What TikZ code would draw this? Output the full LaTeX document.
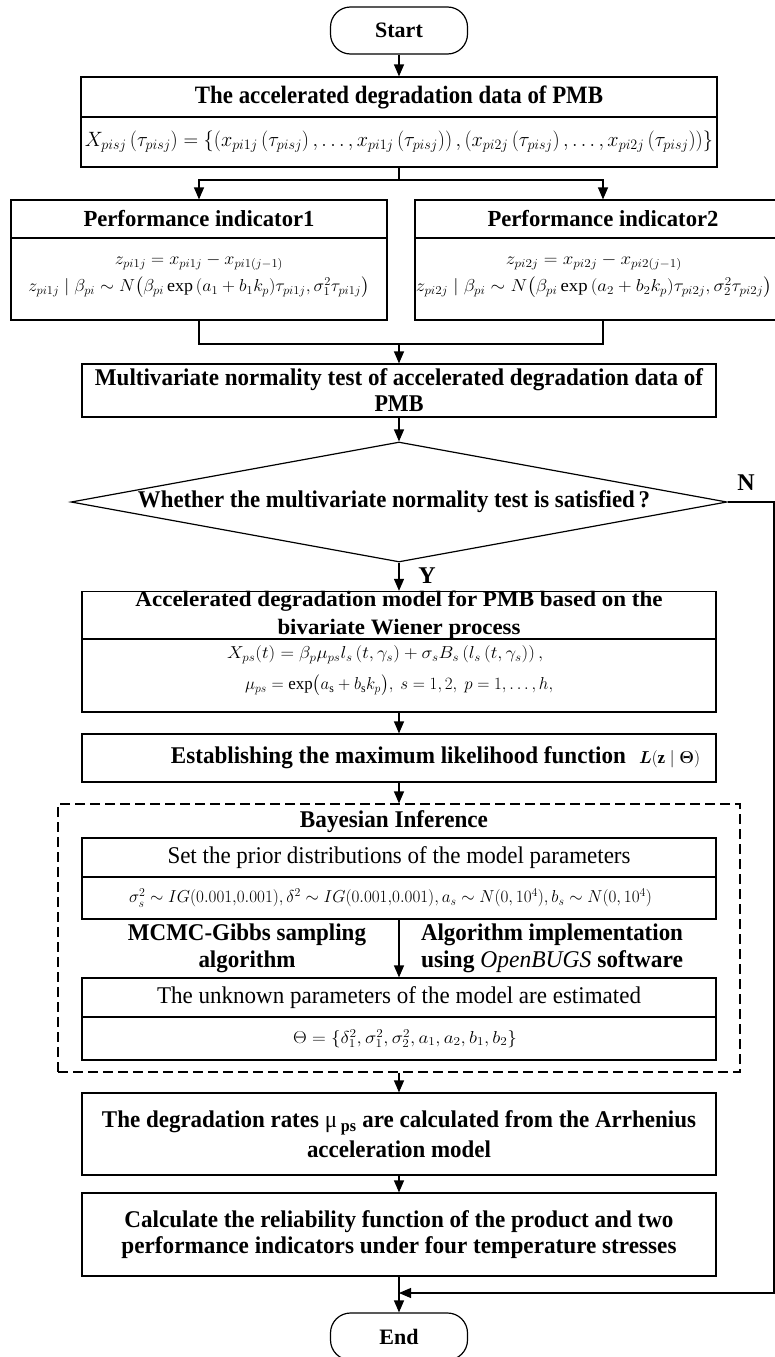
\documentclass[tikz,border=0pt]{standalone}
\usepackage{amsmath}
\usepackage{graphicx}
\usepackage{fontspec}
\setmainfont{Liberation Serif}
\usetikzlibrary{shapes.geometric,arrows.meta}
\newcommand\fw[2]{\resizebox{#1pt}{\height}{#2}}
\newcommand\hdf{\bfseries\fontsize{24}{27}\selectfont}
\newcommand\rgf{\fontsize{24}{27}\selectfont}
\newcommand\mff{\fontsize{17.28}{27}\selectfont}
\begin{document}
\begin{tikzpicture}[x=1pt,y=-1pt,
  ln/.style={line width=1.2pt},
  arr/.style={ln,-{Triangle[length=12pt,width=10pt]}},
  bx/.style={draw,line width=1.2pt,inner sep=0pt,minimum width=634pt,align=center},
  term/.style={draw,line width=1.2pt,rounded corners=20pt,minimum width=137pt,minimum height=47pt,inner sep=0pt,font=\bfseries\fontsize{22}{24}\selectfont},
  dia/.style={diamond,draw,line width=1.2pt,inner sep=0pt,minimum width=656pt,minimum height=120pt},
  dashbox/.style={draw,line width=1.2pt,dash pattern=on 10pt off 5pt,inner sep=0pt,minimum width=682pt,minimum height=268pt},
  lbl/.style={inner sep=0pt,align=center}]
\useasboundingbox (0,0) rectangle (775,1357);
% start and data
\node[term] (start) at (399,30.5) {Start};
\node[bx,minimum width=636pt,minimum height=40pt,font=\bfseries\fontsize{25}{27}\selectfont] (dhead) at (399,97) {\fw{408}{The accelerated degradation data of PMB}};
\node[bx,minimum width=636pt,minimum height=50pt,font=\fontsize{20.74}{25}\selectfont] (dbody) at (399,142) {\fw{628}{$X_{pisj}\left(\tau_{pisj}\right)=\left\{\left(x_{pi1j}\left(\tau_{pisj}\right),\ldots,x_{pi1j}\left(\tau_{pisj}\right)\right),\left(x_{pi2j}\left(\tau_{pisj}\right),\ldots,x_{pi2j}\left(\tau_{pisj}\right)\right)\right\}$}};
% performance indicators
\node[bx,minimum width=376pt,minimum height=38pt,font=\bfseries\fontsize{23}{26}\selectfont] (pi1h) at (199,219) {\fw{231}{Performance indicator1}};
\node[bx,minimum width=376pt,minimum height=82pt] (pi1b) at (199,279) {};
\node[lbl,font=\mff] (pi1t) at (199,276) {\fw{168}{$z_{pi1j}=x_{pi1j}-x_{pi1(j-1)}$}\\\fw{341}{$z_{pi1j}\mid\beta_{pi}\sim N\bigl(\beta_{pi}\exp\,(a_1+b_1k_p)\tau_{pi1j},\sigma_1^2\tau_{pi1j}\bigr)$}};
\node[bx,minimum width=376pt,minimum height=38pt,font=\bfseries\fontsize{23}{26}\selectfont] (pi2h) at (603,219) {\fw{231}{Performance indicator2}};
\node[bx,minimum width=376pt,minimum height=82pt] (pi2b) at (603,279) {};
\node[lbl,font=\mff] (pi2t) at (594,276) {\fw{176}{$z_{pi2j}=x_{pi2j}-x_{pi2(j-1)}$}\\\fw{356}{$z_{pi2j}\mid\beta_{pi}\sim N\bigl(\beta_{pi}\exp\,(a_2+b_2k_p)\tau_{pi2j},\sigma_2^2\tau_{pi2j}\bigr)$}};
% normality test
\node[bx,minimum height=53pt,font=\bfseries\fontsize{24}{26}\selectfont] (mvt) at (399,390.5) {\fw{608}{Multivariate normality test of accelerated degradation data of}\\\fw{49}{PMB}};
\node[dia] (dia) at (399,502) {};
\node[lbl,font=\hdf] (diat) at (394,502) {\fw{512}{Whether the multivariate normality test is satisfied\,?}};
\node[lbl,font=\hdf] (ylab) at (427,576) {Y};
\node[lbl,font=\hdf] (nlab) at (746,483) {N};
% model
\node[bx,minimum height=47pt,font=\bfseries\fontsize{22}{28}\selectfont] (mh) at (399,615.5) {\fw{527}{Accelerated degradation model for PMB based on the}\\\fw{243}{bivariate Wiener process}};
\node[bx,minimum height=73pt] (mb) at (399,675.5) {};
\node[lbl,anchor=west,align=left,font=\fontsize{17.28}{31}\selectfont] (mbt) at (227,670.5) {\fw{316}{$X_{ps}(t)=\beta_p\mu_{ps}l_s\,(t,\gamma_s)+\sigma_sB_s\,(l_s\,(t,\gamma_s))\,,$}\\\hspace*{18pt}\fw{308}{$\mu_{ps}=\exp\bigl(a_{\mathrm{s}}+b_{\mathrm{s}}k_p\bigr),\ s=1,2,\ p=1,\ldots,h,$}};
% likelihood
\node[bx,minimum height=48pt] (ml) at (399,758) {};
\node[lbl,font=\hdf] (mlt) at (435.5,758) {\fw{455}{Establishing the maximum likelihood function}\hspace{13pt}\fw{61}{\fontsize{17.28}{18}\selectfont$\boldsymbol{L}(\mathbf{z}\mid\boldsymbol{\Theta})$}};
% Bayesian inference
\node[dashbox] (bay) at (399,938) {};
\node[lbl,font=\hdf] (bayt) at (394,822) {\fw{188}{Bayesian Inference}};
\node[bx,minimum height=39pt,font=\rgf] (ph) at (399,857.5) {\fw{463}{Set the prior distributions of the model parameters}};
\node[bx,minimum height=42pt,font=\mff] (pb) at (399,898) {\fw{523}{$\sigma_s^2\sim IG(0.001{,}0.001),\delta^2\sim IG(0.001{,}0.001),a_s\sim N(0,10^4),b_s\sim N(0,10^4)$}\hspace*{17pt}};
\node[lbl,font=\bfseries\fontsize{24}{27}\selectfont] (mcmc) at (247,948.5) {\fw{238}{MCMC-Gibbs sampling}\\\fw{97}{algorithm}};
\node[lbl,font=\bfseries\fontsize{24}{27}\selectfont] (algo) at (552,948.5) {\fw{262}{Algorithm implementation}\\\fw{262}{using {\mdseries\itshape OpenBUGS} software}};
\node[bx,minimum height=39pt,font=\rgf] (uh) at (399,997.5) {\fw{484}{The unknown parameters of the model are estimated}};
\node[bx,minimum height=43pt,font=\mff] (ub) at (399,1038.5) {\hspace*{12pt}\fw{224}{$\Theta=\{\delta_1^2,\sigma_1^2,\sigma_2^2,a_1,a_2,b_1,b_2\}$}};
% final steps
\node[bx,minimum height=82pt,font=\bfseries\fontsize{24}{30}\selectfont] (deg) at (399,1134) {\fw{594}{The degradation rates {\mdseries μ}\,\textsubscript{ps} are calculated from the Arrhenius}\\\fw{184}{acceleration model}};
\node[bx,minimum height=83pt,font=\bfseries\fontsize{24}{26}\selectfont] (calc) at (399,1234.5) {\fw{549}{Calculate the reliability function of the product and two}\\\fw{555}{performance indicators under four temperature stresses}};
\node[term] (endn) at (399,1336.5) {End};
% connectors
\coordinate (fork) at (399,180);
\coordinate (join) at (399,344);
\coordinate (nc) at (774,502);
\coordinate (rb) at (774,1293);
\coordinate (rin) at (399,1293);
\draw[arr] (start) -- (dhead);
\draw[ln] (dbody) -- (fork);
\draw[arr] (fork) -| (pi1h);
\draw[arr] (fork) -| (pi2h);
\draw[ln] (pi1b) |- (join);
\draw[ln] (pi2b) |- (join);
\draw[arr] (join) -- (mvt);
\draw[arr] (mvt) -- (dia);
\draw[arr] (dia) -- (mh);
\draw[arr] (mb) -- (ml);
\draw[arr] (ml) -- (bay);
\draw[arr] (pb) -- (uh);
\draw[arr] (bay) -- (deg);
\draw[arr] (deg) -- (calc);
\draw[arr] (calc) -- (endn);
\draw[arr] (dia.east) -- (nc) -- (rb) -- (rin);
\end{tikzpicture}
\end{document}
